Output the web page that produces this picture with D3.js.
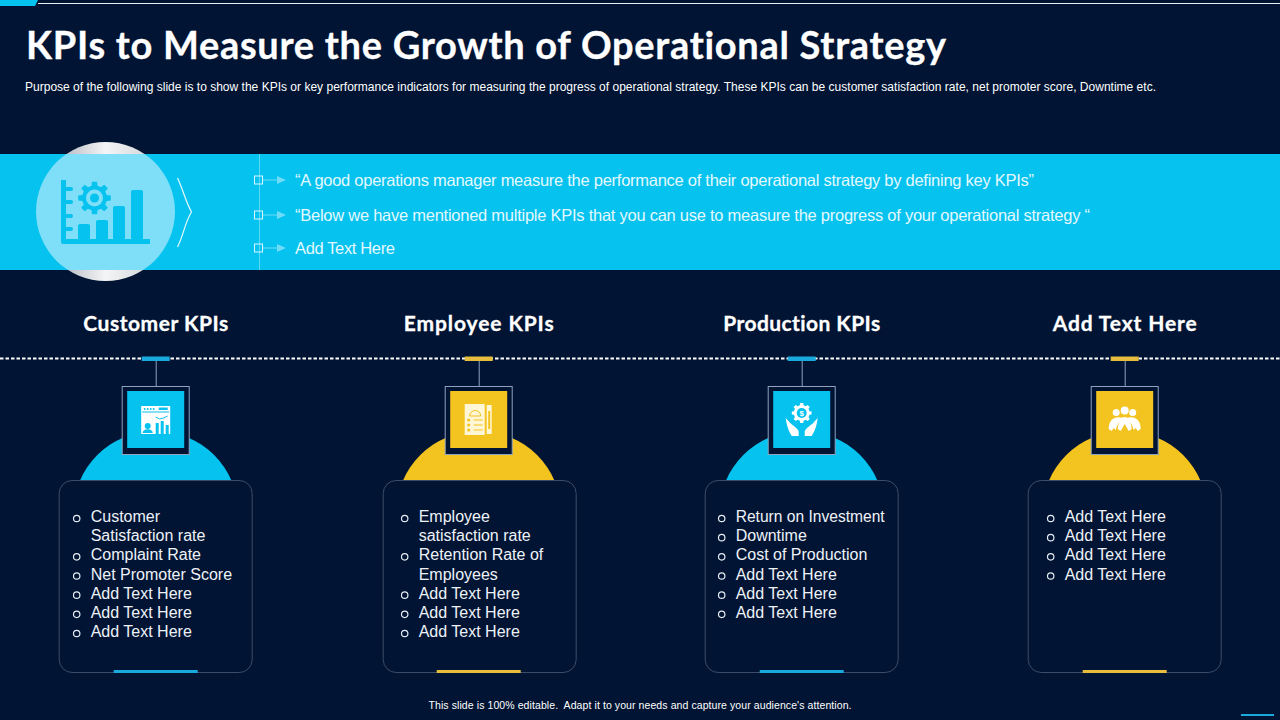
<!DOCTYPE html>
<html>
<head>
<meta charset="utf-8">
<script src="https://cdn.jsdelivr.net/npm/d3@7"></script>
<style>
  html, body { margin: 0; padding: 0; background: #011433; }
  svg { display: block; }
  text { font-family: "Liberation Sans", Arial, sans-serif; fill: #fff; font-variant-ligatures: none; }
  .head { font-family: Lato, sans-serif; font-weight: 700; stroke: #fff; stroke-width: 0.3px; }
</style>
</head>
<body>
<svg id="slide" width="1280" height="720"></svg>
<script>
const titleText = "KPIs to Measure the Growth of Operational Strategy";
const subtitleText = "Purpose of the following slide is to show the KPIs or key performance indicators for measuring the progress of operational strategy. These KPIs can be customer satisfaction rate, net promoter score, Downtime etc.";
const footerText = "This slide is 100% editable.  Adapt it to your needs and capture your audience's attention.";
const bandLines = [
  "\u201CA good operations manager measure the performance of their operational strategy by defining key KPIs\u201D",
  "\u201CBelow we have mentioned multiple KPIs that you can use to measure the progress of your operational strategy \u201C",
  "Add Text Here"
];
const categories = ["Customer KPIs", "Employee KPIs", "Production KPIs", "Add Text Here"];
const customerItems = [["Customer", "Satisfaction rate"], ["Complaint Rate"], ["Net Promoter Score"], ["Add Text Here"], ["Add Text Here"], ["Add Text Here"]];
const employeeItems = [["Employee", "satisfaction rate"], ["Retention Rate of", "Employees"], ["Add Text Here"], ["Add Text Here"], ["Add Text Here"]];
const productionItems = [["Return on Investment"], ["Downtime"], ["Cost of Production"], ["Add Text Here"], ["Add Text Here"], ["Add Text Here"]];
const otherItems = [["Add Text Here"], ["Add Text Here"], ["Add Text Here"], ["Add Text Here"]];
const columnItems = [customerItems, employeeItems, productionItems, otherItems];

const BG = "#011433", CYAN = "#05c2ee", YELLOW = "#f3c31f", EDGE = "#8ea3c0";
const columnColors = [CYAN, YELLOW, CYAN, YELLOW];
const tabColors = ["#1aa9dc", "#e6bd3c", "#1aa9dc", "#e6bd3c"];
const textOffsets = [-65, -60, -66, -60];
const panelShift = [0, 1, 0, 0];

const svg = d3.select("#slide");
const defs = svg.append("defs");
svg.append("rect").attr("width", 1280).attr("height", 720).attr("fill", BG);

const x = d3.scalePoint().domain(categories).range([155.7, 1124.7]);

// gear shape used by two icons
function gearPath(cx, cy, outer, inner, teeth) {
  const pts = [];
  const step = Math.PI * 2 / teeth;
  d3.range(teeth).forEach(i => {
    const a = i * step;
    [[-0.3, inner], [-0.2, outer], [0.2, outer], [0.3, inner]].forEach(([k, r]) => {
      pts.push([cx + r * Math.cos(a + k * step), cy + r * Math.sin(a + k * step)]);
    });
  });
  return d3.line()(pts) + "Z";
}

// tile icons, drawn around the tile centre
function customerIcon(g, c) {
  g.append("rect").attr("x", -14.5).attr("y", 406).attr("width", 29).attr("height", 28);
  g.append("rect").attr("x", -13.5).attr("y", 411.5).attr("width", 27).attr("height", 1).attr("fill", c);
  [-11, -8, -5, -2].forEach(cx => g.append("circle").attr("cx", cx).attr("cy", 409).attr("r", 1).attr("fill", c));
  g.append("rect").attr("x", 3).attr("y", 407.5).attr("width", 9).attr("height", 2.5).attr("fill", c);
  g.append("circle").attr("cx", -8).attr("cy", 426).attr("r", 3).attr("fill", c);
  g.append("path").attr("d", "M-13 433C-13 428 -3 428 -3 433Z").attr("fill", c);
  [[0, 423], [5, 421], [10, 425]].forEach(([bx, by]) =>
    g.append("rect").attr("x", bx).attr("y", by).attr("width", 3).attr("height", 434 - by).attr("fill", c));
  g.append("path").attr("d", "M0 417L4 419L8 418L12 416").attr("fill", "none").attr("stroke", c).attr("stroke-width", 1);
}
function employeeIcon(g, c) {
  g.append("rect").attr("x", -14).attr("y", 404).attr("width", 20).attr("height", 31).attr("fill", "#fff6d6");
  g.append("rect").attr("x", 8).attr("y", 405).attr("width", 5).attr("height", 29).attr("fill", "#fff6d6");
  g.append("rect").attr("x", 9.5).attr("y", 411).attr("width", 2).attr("height", 18).attr("fill", c);
  g.append("path").attr("d", "M-9 416A5.5 5.5 0 0 1 2 416Z").attr("fill", "none").attr("stroke", c);
  [[420, -5], [425, -5], [430, -5]].forEach(([ly, lx]) => {
    g.append("circle").attr("cx", -10).attr("cy", ly).attr("r", 1.6).attr("fill", c);
    g.append("rect").attr("x", lx).attr("y", ly - 0.5).attr("width", 9).attr("height", 1).attr("fill", c);
  });
}
function productionIcon(g, c) {
  g.append("path").attr("d", gearPath(0, 413, 10, 8, 8));
  g.append("circle").attr("cy", 413).attr("r", 5).attr("fill", c);
  g.append("text").attr("y", 416).attr("font-size", 8).attr("font-weight", 700).attr("text-anchor", "middle").text("$");
  g.append("path").attr("d", "M-16 418C-13 421 -11 424 -9 425C-7 427 -3 429 -3 432V436H-10C-13 431 -15 426 -16 418Z");
  g.append("path").attr("d", "M16 418C13 421 11 424 9 425C7 427 3 429 3 432V436H10C13 431 15 426 16 418Z");
}
function peopleIcon(g, c) {
  [[-8.5, 412.5, 3.5], [8, 412.5, 3.5], [0, 410.5, 4]].forEach(([cx, cy, r]) =>
    g.append("circle").attr("cx", cx).attr("cy", cy).attr("r", r));
  g.append("path").attr("d", "M-16 429C-16 418 -8 416 -2 418C-6 422 -8 426 -9 430L-11 428L-13 431Z");
  g.append("path").attr("d", "M16 429C16 418 8 416 2 418C6 422 8 426 9 430L11 428L13 431Z");
  g.append("path").attr("d", "M-7 429C-6 420 -3 417 0 417C3 417 6 420 7 429L4 431L0 424L-4 431Z");
}
const drawers = [customerIcon, employeeIcon, productionIcon, peopleIcon];

// top rule + corner accents
svg.append("line").attr("x1", 38).attr("x2", 1280).attr("y1", 3.5).attr("y2", 3.5).attr("stroke", "#e8eef0").attr("stroke-width", 1);
svg.append("path").attr("d", "M0 0H38L35 6H0Z").attr("fill", CYAN);
svg.append("rect").attr("x", 1241).attr("y", 714).attr("width", 33).attr("height", 2).attr("fill", "#1aa9dc");

// heading
svg.append("text").attr("class", "head").attr("x", 26).attr("y", 59).attr("font-size", 38)
  .attr("textLength", 920).attr("lengthAdjust", "spacing").text(titleText);
svg.append("text").attr("x", 25).attr("y", 91).attr("font-size", 12)
  .attr("textLength", 1131).attr("lengthAdjust", "spacing").text(subtitleText);

// disc behind the band, only the slivers outside it stay white
const grad = defs.append("linearGradient").attr("id", "sliver");
grad.append("stop").attr("offset", "0.2").attr("stop-color", "#b9bcc4");
grad.append("stop").attr("offset", "0.5").attr("stop-color", "#f4f5f6");
grad.append("stop").attr("offset", "0.8").attr("stop-color", "#d5d8dc");
svg.append("circle").attr("cx", 105.5).attr("cy", 211.5).attr("r", 69.5).attr("fill", "url(#sliver)");
svg.append("rect").attr("x", 0).attr("y", 154).attr("width", 1280).attr("height", 116).attr("fill", CYAN);
defs.append("clipPath").attr("id", "bandClip").append("rect").attr("x", 0).attr("y", 154).attr("width", 1280).attr("height", 116);
svg.append("circle").attr("cx", 105.5).attr("cy", 211.5).attr("r", 69.5).attr("fill", "#7fdff9").attr("clip-path", "url(#bandClip)");

// main chart icon
const mainIcon = svg.append("g").attr("fill", CYAN);
mainIcon.append("path").attr("d", "M61 180h5v59h84v5H63a2 2 0 0 1-2-2Z");
[189, 202, 216, 229].forEach(y => mainIcon.append("rect").attr("x", 64).attr("y", y - 2).attr("width", 9).attr("height", 4).attr("rx", 2));
[[78, 224], [96, 220], [113, 206], [131, 190]].forEach(([bx, by]) =>
  mainIcon.append("rect").attr("x", bx).attr("y", by).attr("width", 12).attr("height", 240 - by).attr("rx", 2));
mainIcon.append("path").attr("d", gearPath(94.5, 198, 16.5, 12.5, 8));
mainIcon.append("circle").attr("cx", 94.5).attr("cy", 198).attr("r", 8.5).attr("fill", "#7fdff9");
mainIcon.append("circle").attr("cx", 94.5).attr("cy", 198).attr("r", 4.5);

// chevron
svg.append("path").attr("d", "M177.5 178C184 192 185 200 191.5 212C185 222 184 234 177.5 247")
  .attr("fill", "none").attr("stroke", "#e6f9ff").attr("stroke-width", 1.2);

// band list
svg.append("line").attr("x1", 259.5).attr("x2", 259.5).attr("y1", 154).attr("y2", 270).attr("stroke", "#5fd6f6").attr("stroke-width", 1);
const bandY = d3.scalePoint().domain(bandLines).range([180, 248]);
const bandWidths = [739, 795, 100];
const bandRow = svg.selectAll(".bandRow").data(bandLines).join("g").attr("class", "bandRow")
  .attr("transform", (d, i) => `translate(0,${i === 1 ? 215 : bandY(d)})`);
bandRow.append("rect").attr("x", 254.5).attr("y", -4).attr("width", 8).attr("height", 8).attr("fill", "none").attr("stroke", "#d8f6ff").attr("stroke-width", 1);
bandRow.append("line").attr("x1", 263).attr("x2", 280).attr("y1", 0).attr("y2", 0).attr("stroke", "#6fdcf8").attr("stroke-width", 1);
bandRow.append("path").attr("d", "M277 -4L286 0L277 4Z").attr("fill", "#6fdcf8");
bandRow.append("text").attr("x", 295).attr("y", 6).attr("font-size", 16.5).style("fill", "#e3f8fe")
  .attr("textLength", (d, i) => bandWidths[i]).attr("lengthAdjust", "spacing").text(d => d);

// dashed divider
svg.append("line").attr("x1", 0).attr("x2", 1280).attr("y1", 358.5).attr("y2", 358.5)
  .attr("stroke", "#fff").attr("stroke-width", 2).attr("stroke-dasharray", "3.5 2");

// clip is resolved in each column's own coordinates
defs.append("clipPath").attr("id", "domeClip").append("rect").attr("x", -100).attr("y", 400).attr("width", 200).attr("height", 81);

const column = svg.selectAll(".column").data(categories).join("g").attr("class", "column")
  .attr("transform", d => `translate(${x(d)},0)`);

column.append("text").attr("class", "head").attr("y", 331).attr("font-size", 21).attr("text-anchor", "middle")
  .attr("lengthAdjust", "spacing")
  .attr("textLength", (d, i) => [145, 150, 157, 144][i]).text(d => d);

// tab + stem
column.append("line").attr("x1", 0.5).attr("x2", 0.5).attr("y1", 360).attr("y2", 386).attr("stroke", EDGE).attr("stroke-width", 1);
column.append("rect").attr("x", -14).attr("y", 356.5).attr("width", 28).attr("height", 4.5).attr("fill", (d, i) => tabColors[i]);

// dome, panel covers the lower half
column.append("circle").attr("cx", 0).attr("cy", 513.5).attr("r", 82.6)
  .attr("fill", (d, i) => columnColors[i]).attr("clip-path", "url(#domeClip)");

// panel
column.append("rect").attr("x", (d, i) => -96.5 + panelShift[i]).attr("y", 480.5).attr("width", 193).attr("height", 192).attr("rx", 13)
  .attr("fill", BG).attr("stroke", "#3d4d69").attr("stroke-width", 1);
column.append("rect").attr("x", -42).attr("y", 670).attr("width", 84).attr("height", 3).attr("fill", (d, i) => tabColors[i]);

// icon tile
column.append("rect").attr("x", -33.5).attr("y", 386.5).attr("width", 67).attr("height", 68)
  .attr("fill", BG).attr("stroke", EDGE).attr("stroke-width", 1);
column.append("rect").attr("x", -28.5).attr("y", 391).attr("width", 57).attr("height", 57).attr("fill", (d, i) => columnColors[i]);

const lineY = d3.scaleLinear().domain([0, 6]).range([522, 637]);
column.each(function (d, i) {
  const g = d3.select(this);
  let row = 0;
  columnItems[i].forEach(lines => {
    g.append("circle").attr("cx", textOffsets[i] - 14).attr("cy", lineY(row) - 3.5).attr("r", 3.2)
      .attr("fill", "none").attr("stroke", "#e8eef5").attr("stroke-width", 1.2);
    lines.forEach(t => {
      const label = g.append("text").attr("x", textOffsets[i]).attr("y", lineY(row)).attr("font-size", 16).style("fill", "#eef2f8").text(t);
      // this one line runs narrower in the reference
      if (t === "Return on Investment") label.attr("textLength", 149).attr("lengthAdjust", "spacingAndGlyphs");
      row += 1;
    });
  });
  const icon = g.append("g").attr("fill", "#fff");
  drawers[i](icon, columnColors[i]);
});

svg.append("text").attr("x", 640).attr("y", 709).attr("font-size", 10.5).attr("text-anchor", "middle")
  .attr("textLength", 423).attr("lengthAdjust", "spacing").style("white-space", "pre").text(footerText);
</script>
</body>
</html>
